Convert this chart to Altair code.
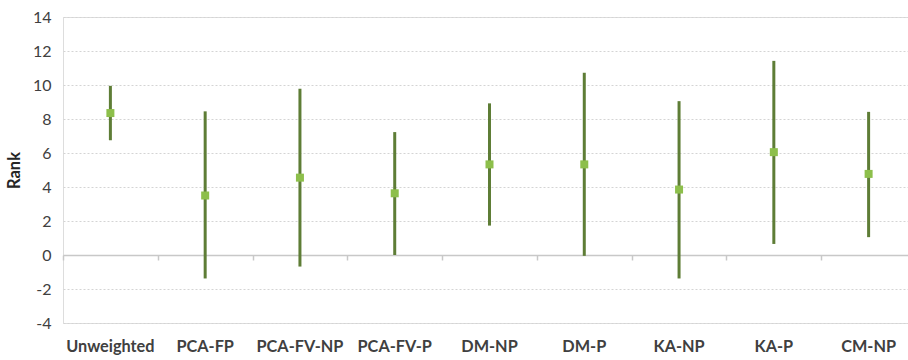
import altair as alt
import pandas as pd

methods = ["Unweighted", "PCA-FP", "PCA-FV-NP", "PCA-FV-P", "DM-NP", "DM-P", "KA-NP", "KA-P", "CM-NP"]
mean_rank = [8.35, 3.5, 4.55, 3.63, 5.33, 5.33, 3.85, 6.05, 4.77]
upper = [9.95, 8.45, 9.78, 7.23, 8.92, 10.72, 9.05, 11.42, 8.42]
lower = [6.75, -1.38, -0.68, 0.0, 1.73, -0.05, -1.38, 0.65, 1.05]

df = pd.DataFrame({"method": methods, "mean": mean_rank, "hi": upper, "lo": lower})

FONT = "Lato"
xscale = alt.Scale(type="band", domain=methods, range=[0, 853], paddingInner=0, paddingOuter=0)
yscale = alt.Scale(domain=[-4, 14], nice=False)

y_axis = alt.Axis(title="Rank", values=list(range(-4, 16, 2)), ticks=False, domain=False,
                  labelExpr="toString(datum.value)",
                  labelPadding=12, labelFontSize=16, labelColor="#404040", labelFont=FONT,
                  titleFont=FONT, titleFontSize=16.5, titleFontWeight="bold",
                  titleColor="#262626", titlePadding=10,
                  grid=True, gridColor="#d4d4d4", gridDash=[2, 2], gridWidth=1)

base = alt.Chart(df)

rules = base.mark_rule(color="#5E7D36", strokeWidth=3).encode(
    x=alt.X("method:N", scale=xscale, sort=methods,
            axis=alt.Axis(title=None, orient="bottom", labelAngle=0, ticks=False, domain=False,
                          labelPadding=15, labelFontWeight="bold", labelFontSize=16.3,
                          labelColor="#404040", labelFont=FONT, grid=False)),
    y=alt.Y("lo:Q", scale=yscale, axis=y_axis),
    y2="hi:Q",
)

zero_axis = base.mark_point(opacity=0).encode(
    x=alt.X("method:N", scale=xscale, sort=methods,
            axis=alt.Axis(title=None, orient="bottom", labels=False, domain=True,
                          domainColor="#c8c8c8", domainWidth=1.5, ticks=True,
                          tickBand="extent", tickSize=5, tickColor="#c8c8c8", tickWidth=1.5,
                          offset=-68, grid=False)),
    y=alt.Y("lo:Q", scale=yscale, axis=y_axis),
)

points = base.mark_square(color="#8DBF4B", size=64, opacity=1, filled=True).encode(
    x=alt.X("method:N", scale=xscale, sort=methods, axis=None),
    y=alt.Y("mean:Q", scale=yscale, axis=y_axis),
)

chart = alt.layer(rules, zero_axis, points).resolve_axis(x="independent").properties(
    width=845, height=306,
    autosize=alt.AutoSizeParams(type="none"),
    padding={"left": 63, "top": 17, "right": 0, "bottom": 37},
).configure_view(stroke="#c8c8c8", strokeWidth=1.5).configure(background="white")

chart.save("out.html", embed_options={"renderer": "svg", "actions": False})
